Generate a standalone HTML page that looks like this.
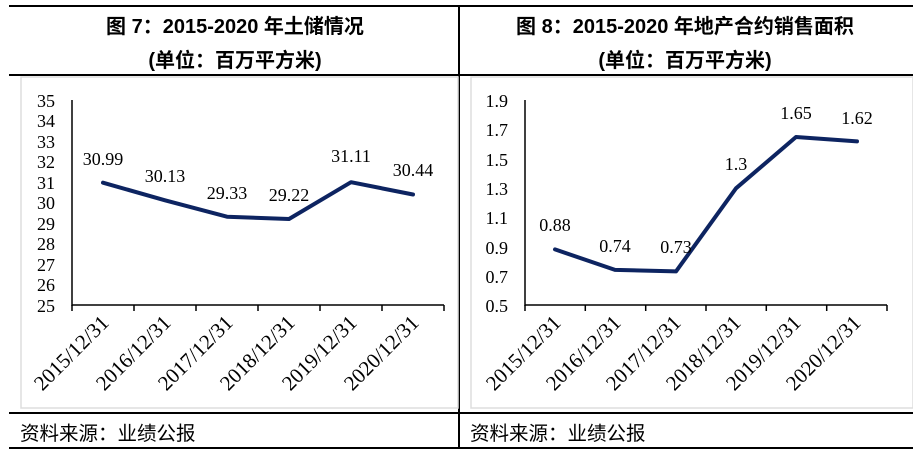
<!DOCTYPE html>
<html><head><meta charset="utf-8"><style>
body{margin:0;background:#fff;}
svg{display:block;}
.t{font-family:"Liberation Sans","Noto Sans CJK SC",sans-serif;font-weight:bold;font-size:20px;fill:#000;}
.s{font-family:"Liberation Sans","Noto Sans CJK SC",sans-serif;font-size:19.5px;fill:#000;}
.n{font-family:"Liberation Serif",serif;font-size:18px;fill:#000;}
.x{font-family:"Liberation Serif",serif;font-size:21px;fill:#000;}
</style></head><body>
<svg width="913" height="454" viewBox="0 0 913 454">
<line x1="9" y1="6" x2="913" y2="6" stroke="#000" stroke-width="2"/>
<line x1="9" y1="75" x2="913" y2="75" stroke="#000" stroke-width="2"/>
<line x1="9" y1="413" x2="913" y2="413" stroke="#000" stroke-width="2"/>
<line x1="9" y1="448" x2="913" y2="448" stroke="#000" stroke-width="2"/>
<line x1="459" y1="6" x2="459" y2="448" stroke="#000" stroke-width="2"/>
<rect x="21" y="77" width="437" height="331" fill="none" stroke="#ddd" stroke-width="1.5"/>
<rect x="471" y="77" width="442" height="331" fill="none" stroke="#ddd" stroke-width="1.5"/>
<text class="t" x="235" y="33" text-anchor="middle">图 7：2015-2020 年土储情况</text>
<text class="t" x="235" y="67" text-anchor="middle">(单位：百万平方米)</text>
<text class="t" x="685" y="33" text-anchor="middle">图 8：2015-2020 年地产合约销售面积</text>
<text class="t" x="685" y="67" text-anchor="middle">(单位：百万平方米)</text>
<text class="s" x="20" y="440">资料来源：业绩公报</text>
<text class="s" x="470" y="440">资料来源：业绩公报</text>

<g>
<line x1="72" y1="100" x2="72" y2="306" stroke="#000" stroke-width="1.5"/>
<line x1="72" y1="305" x2="444" y2="305" stroke="#000" stroke-width="1.5"/>
<g stroke="#000" stroke-width="1.5">
<line x1="72" y1="305" x2="72" y2="311"/><line x1="134" y1="305" x2="134" y2="311"/><line x1="196" y1="305" x2="196" y2="311"/><line x1="258" y1="305" x2="258" y2="311"/><line x1="320" y1="305" x2="320" y2="311"/><line x1="382" y1="305" x2="382" y2="311"/><line x1="444" y1="305" x2="444" y2="311"/>
</g>
<g class="n" text-anchor="end">
<text x="55" y="107">35</text><text x="55" y="127">34</text><text x="55" y="148">33</text><text x="55" y="168">32</text><text x="55" y="189">31</text><text x="55" y="209">30</text><text x="55" y="230">29</text><text x="55" y="250">28</text><text x="55" y="271">27</text><text x="55" y="291">26</text><text x="55" y="312">25</text>
</g>
<polyline points="103,182.7 165,200.3 227,216.7 289,219 351,182.2 413,194.5" fill="none" stroke="#0d2461" stroke-width="4" stroke-linejoin="round" stroke-linecap="round"/>
<g class="n" text-anchor="middle" font-size="19">
<text x="103" y="165">30.99</text><text x="165" y="182">30.13</text><text x="227" y="199">29.33</text><text x="289" y="201">29.22</text><text x="351" y="162">31.11</text><text x="413" y="176">30.44</text>
</g>
<g class="x" text-anchor="end">
<text transform="translate(110,324) rotate(-45)">2015/12/31</text>
<text transform="translate(172,324) rotate(-45)">2016/12/31</text>
<text transform="translate(234,324) rotate(-45)">2017/12/31</text>
<text transform="translate(296,324) rotate(-45)">2018/12/31</text>
<text transform="translate(358,324) rotate(-45)">2019/12/31</text>
<text transform="translate(420,324) rotate(-45)">2020/12/31</text>
</g>
</g>

<g>
<line x1="525" y1="100" x2="525" y2="306" stroke="#000" stroke-width="1.5"/>
<line x1="525" y1="305" x2="887" y2="305" stroke="#000" stroke-width="1.5"/>
<g stroke="#000" stroke-width="1.5">
<line x1="525" y1="305" x2="525" y2="311"/><line x1="585.3" y1="305" x2="585.3" y2="311"/><line x1="645.7" y1="305" x2="645.7" y2="311"/><line x1="706" y1="305" x2="706" y2="311"/><line x1="766.3" y1="305" x2="766.3" y2="311"/><line x1="826.7" y1="305" x2="826.7" y2="311"/><line x1="887" y1="305" x2="887" y2="311"/>
</g>
<g class="n" text-anchor="end">
<text x="508" y="107">1.9</text><text x="508" y="136">1.7</text><text x="508" y="166">1.5</text><text x="508" y="195">1.3</text><text x="508" y="224">1.1</text><text x="508" y="254">0.9</text><text x="508" y="283">0.7</text><text x="508" y="312">0.5</text>
</g>
<polyline points="555,249.4 615,269.9 676,271.4 736,188.3 796,137 857,141.4" fill="none" stroke="#0d2461" stroke-width="4" stroke-linejoin="round" stroke-linecap="round"/>
<g class="n" text-anchor="middle" font-size="19">
<text x="555" y="231">0.88</text><text x="615" y="252">0.74</text><text x="676" y="253">0.73</text><text x="736" y="170">1.3</text><text x="796" y="119">1.65</text><text x="857" y="124">1.62</text>
</g>
<g class="x" text-anchor="end">
<text transform="translate(562,324) rotate(-45)">2015/12/31</text>
<text transform="translate(622,324) rotate(-45)">2016/12/31</text>
<text transform="translate(682,324) rotate(-45)">2017/12/31</text>
<text transform="translate(742,324) rotate(-45)">2018/12/31</text>
<text transform="translate(802,324) rotate(-45)">2019/12/31</text>
<text transform="translate(862,324) rotate(-45)">2020/12/31</text>
</g>
</g>
</svg>
</body></html>
